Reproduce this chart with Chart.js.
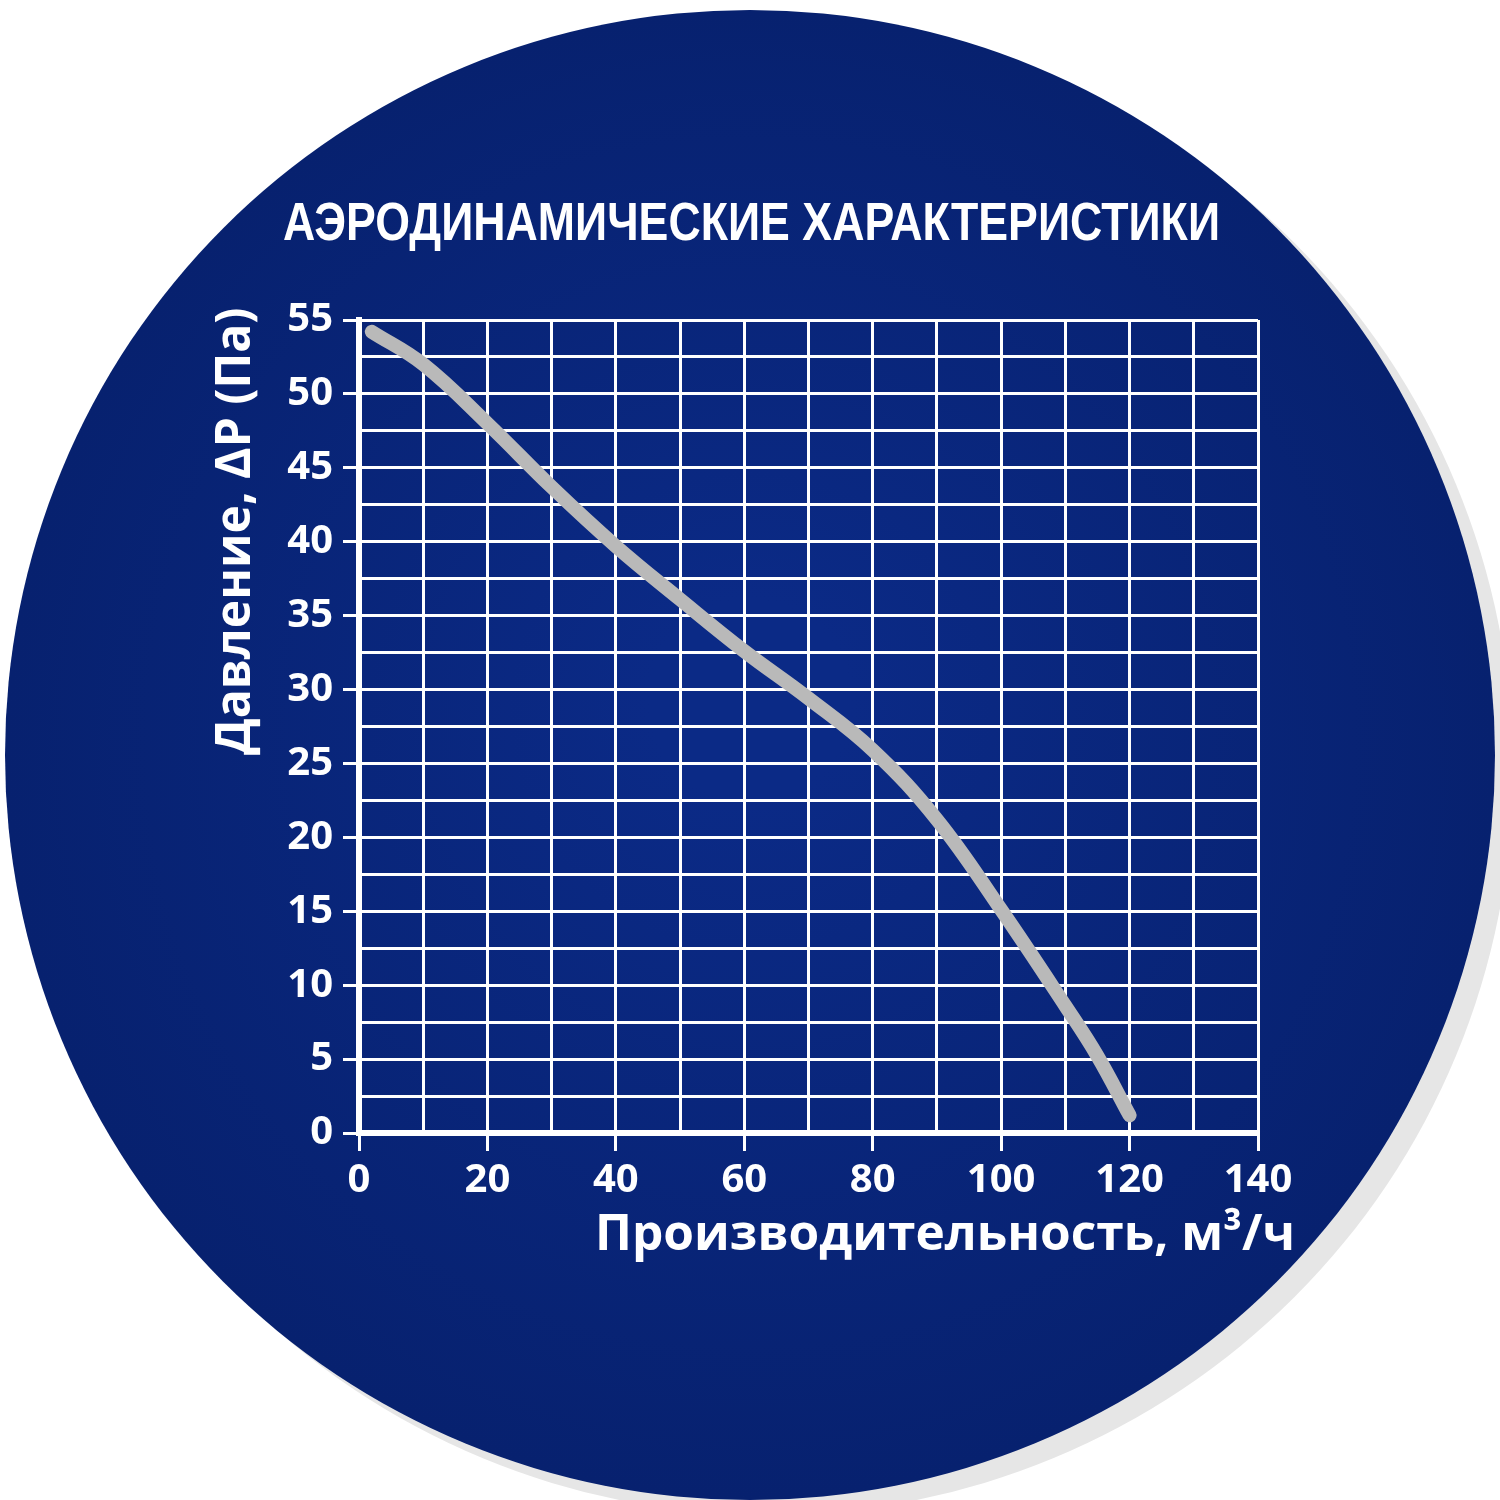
<!DOCTYPE html>
<html>
<head>
<meta charset="utf-8">
<script src="https://cdn.jsdelivr.net/npm/chart.js@4.4.1/dist/chart.umd.min.js"></script>
<style>
  html, body { margin: 0; padding: 0; background: #fff; }
  canvas { display: block; }
</style>
</head>
<body>
<canvas id="aeroChart" width="1500" height="1500"></canvas>
<script>
// Данные кривой (производительность, м3/ч -> давление, Па)
const flow = [2, 10, 20, 30, 40, 50, 60, 70, 80, 90, 100, 110, 115, 120];
const pressure = [54.2, 52.0, 48.0, 43.7, 39.7, 36.1, 32.6, 29.4, 25.9, 21.2, 15.1, 8.6, 5.2, 1.2];

const titleText = 'АЭРОДИНАМИЧЕСКИЕ ХАРАКТЕРИСТИКИ';
const xTitle = 'Производительность, м³/ч';
const yTitle = 'Давление, ΔР (Па)';

const labelFont = "'Open Sans', 'DejaVu Sans', sans-serif";

// круглый синий фон с тенью
const circleBg = {
    id: 'circleBg',
    beforeDraw(chart) {
        const c = chart.ctx;
        c.save();
        c.fillStyle = '#ffffff';
        c.fillRect(0, 0, chart.width, chart.height);
        // тень
        c.beginPath();
        c.arc(768, 770, 745, 0, Math.PI * 2);
        c.fillStyle = '#e6e6e6';
        c.fill();
        // круг
        const g = c.createRadialGradient(750, 700, 100, 750, 755, 745);
        g.addColorStop(0, '#0b2a86');
        g.addColorStop(1, '#07216f');
        c.beginPath();
        c.arc(750, 755, 745, 0, Math.PI * 2);
        c.fillStyle = g;
        c.fill();
        c.restore();
    }
};

// заголовок и подписи осей
const texts = {
    id: 'texts',
    afterDraw(chart) {
        const c = chart.ctx;
        c.save();
        c.fillStyle = '#ffffff';
        c.textBaseline = 'alphabetic';

        c.font = "bold 53px 'Liberation Sans', Arial, sans-serif";
        c.textAlign = 'left';
        c.fillText(titleText, 283, 240, 937);

        c.font = 'bold 50px ' + labelFont;
        c.textAlign = 'right';
        c.fillText(xTitle, 1295, 1250, 700);

        c.translate(250, 755);
        c.rotate(-Math.PI / 2);
        c.font = 'bold 48px ' + labelFont;
        c.textAlign = 'left';
        c.fillText(yTitle, 0, 0, 472);
        c.restore();
    }
};

const ctx = document.getElementById('aeroChart').getContext('2d');
const aeroChart = new Chart(ctx, {
    type: 'line',
    data: {
        datasets: [{
            data: flow.map((f, i) => ({ x: f, y: pressure[i] })),
            borderColor: '#b9b9b9',
            borderWidth: 14,
            borderCapStyle: 'round',
            borderJoinStyle: 'round',
            tension: 0.4,
            pointRadius: 0,
            fill: false
        }]
    },
    options: {
        responsive: false,
        animation: false,
        devicePixelRatio: 1,
        layout: { padding: { top: 320, right: 242, left: 0, bottom: 0 } },
        plugins: {
            legend: { display: false },
            tooltip: { enabled: false }
        },
        scales: {
            x: {
                type: 'linear',
                min: 0,
                max: 140,
                afterFit(scale) { scale.height = 367; },
                ticks: {
                    stepSize: 10,
                    autoSkip: false,
                    maxRotation: 0,
                    color: '#ffffff',
                    padding: 6,
                    font: { family: labelFont, size: 40, weight: 'bold' },
                    callback: v => (v % 20 === 0 ? v : '')
                },
                grid: {
                    color: '#ffffff',
                    lineWidth: 3,
                    tickLength: 18,
                    tickWidth: 3,
                    tickColor: c => (c.tick && c.tick.value % 20 === 0 ? '#ffffff' : 'rgba(0,0,0,0)')
                },
                border: { color: '#ffffff', width: 6 }
            },
            y: {
                min: 0,
                max: 55,
                afterFit(scale) { scale.width = 359; },
                ticks: {
                    stepSize: 2.5,
                    autoSkip: false,
                    color: '#ffffff',
                    padding: 10,
                    font: { family: labelFont, size: 40, weight: 'bold' },
                    callback: v => (v % 5 === 0 ? v : '')
                },
                grid: {
                    color: '#ffffff',
                    lineWidth: 3,
                    tickLength: 16,
                    tickWidth: 3,
                    tickColor: c => (c.tick && c.tick.value % 5 === 0 ? '#ffffff' : 'rgba(0,0,0,0)')
                },
                border: { color: '#ffffff', width: 6 }
            }
        }
    },
    plugins: [circleBg, texts]
});
</script>
</body>
</html>
